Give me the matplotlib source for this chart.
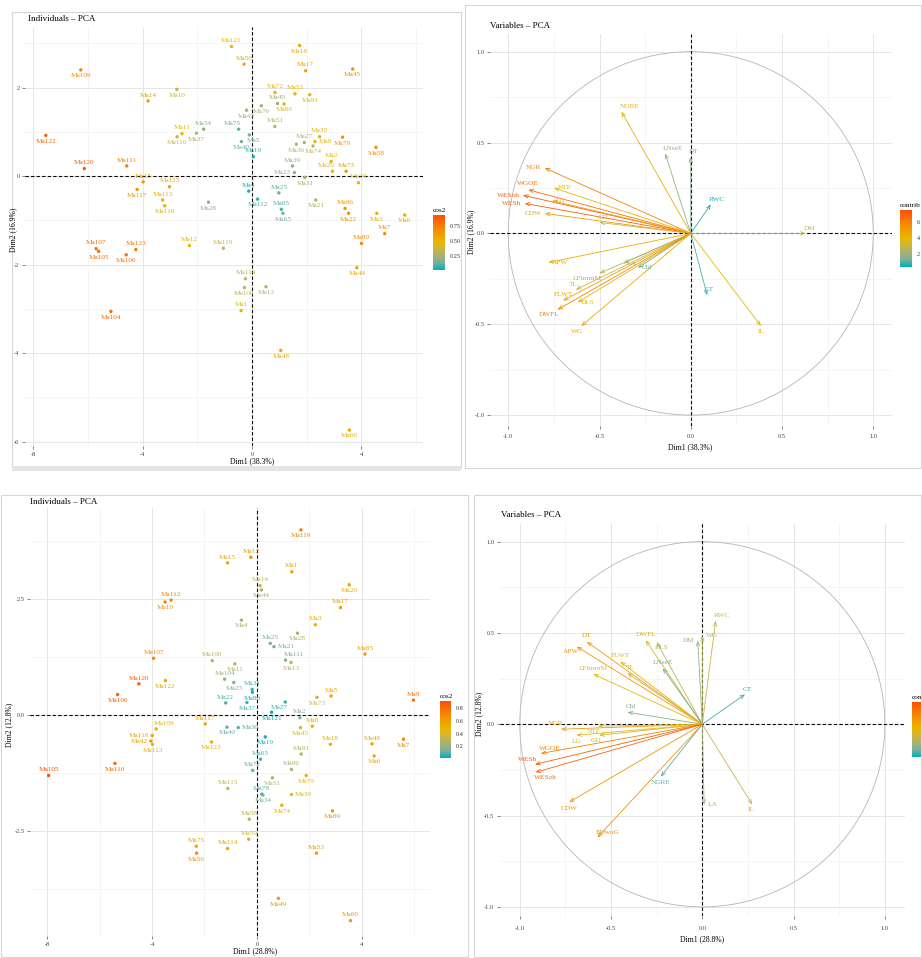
import matplotlib
matplotlib.use("Agg")
import matplotlib.pyplot as plt
import matplotlib.cm as cm
from matplotlib.colors import LinearSegmentedColormap, Normalize
from matplotlib.patches import Circle, Rectangle

W, H = 922, 958
plt.rcParams['font.family'] = ['Liberation Serif', 'DejaVu Serif']
plt.rcParams['axes.unicode_minus'] = False

# teal -> yellow -> red, blended the way ggplot does it (through muted olive tones)
GRAD = LinearSegmentedColormap.from_list('fviz', [
    (0.0, '#00AFBB'), (0.125, '#74B09E'), (0.25, '#A6B272'), (0.375, '#CBB446'),
    (0.5, '#E7B800'), (0.75, '#F58A05'), (1.0, '#FC4E07')])

# ---------------- data: individuals, first PCA (top left) ----------------
ind1_names = ['Ma109', 'Ma14', 'Ma10', 'Ma122', 'Ma11', 'Ma116', 'Ma34', 'Ma37', 'Ma75', 'Ma120',
              'Ma111', 'Ma15', 'Ma115', 'Ma117', 'Ma113', 'Ma110', 'Ma28', 'Ma121', 'Ma50', 'Ma18',
              'Ma17', 'Ma45', 'Ma72', 'Ma53', 'Ma91', 'Ma49', 'Ma80', 'Ma76', 'Ma42', 'Ma51',
              'Ma5', 'Ma40', 'Ma19', 'Ma27', 'Ma30', 'Ma8', 'Ma79', 'Ma36', 'Ma74', 'Ma58',
              'Ma2', 'Ma20', 'Ma73', 'Ma39', 'Ma23', 'Ma31', 'Ma29', 'Ma4', 'Ma112', 'Ma25',
              'Ma85', 'Ma65', 'Ma21', 'Ma96', 'Ma22', 'Ma3', 'Ma6', 'Ma7', 'Ma89', 'Ma107',
              'Ma105', 'Ma106', 'Ma123', 'Ma12', 'Ma119', 'Ma114', 'Ma100', 'Ma13', 'Ma1', 'Ma104',
              'Ma48', 'Ma44', 'Ma60']
ind1_dim1 = [-6.26, -3.80, -2.75, -7.54, -2.56, -2.74, -1.77, -2.03, -0.49, -6.13,
             -4.58, -3.98, -3.02, -4.20, -3.27, -3.19, -1.59, -0.75, -0.29, 1.74,
             1.96, 3.68, 0.84, 1.57, 2.11, 0.93, 1.17, 0.34, -0.20, 0.83,
             -0.10, -0.39, 0.05, 1.91, 2.47, 2.30, 3.31, 1.62, 2.23, 4.53,
             2.89, 2.94, 3.44, 1.48, 1.55, 1.93, 3.89, -0.12, 0.20, 0.98,
             1.07, 1.13, 2.33, 3.40, 3.53, 4.56, 5.58, 4.85, 4.00, -5.70,
             -5.61, -4.60, -4.25, -2.29, -1.05, -0.24, -0.28, 0.51, -0.40, -5.16,
             1.05, 3.83, 3.56]
ind1_dim2 = [2.40, 1.70, 1.96, 0.92, 0.96, 0.89, 1.06, 0.97, 1.06, 0.17,
             0.23, -0.13, -0.24, -0.30, -0.54, -0.67, -0.59, 2.93, 2.53, 2.95,
             2.38, 2.42, 1.89, 1.86, 1.84, 1.64, 1.63, 1.59, 1.49, 1.12,
             0.93, 0.78, 0.44, 0.76, 0.89, 0.78, 0.88, 0.72, 0.68, 0.65,
             0.33, 0.11, 0.11, 0.23, 0.08, -0.03, -0.15, -0.34, -0.52, -0.38,
             -0.75, -0.84, -0.54, -0.73, -0.84, -0.84, -0.88, -1.30, -1.52, -1.64,
             -1.70, -1.78, -1.66, -1.57, -1.63, -2.32, -2.52, -2.50, -3.04, -3.06,
             -3.94, -2.07, -5.74]
ind1_cos2 = [0.72, 0.60, 0.35, 0.85, 0.50, 0.35, 0.20, 0.28, 0.12, 0.88,
             0.75, 0.60, 0.55, 0.65, 0.50, 0.50, 0.20, 0.50, 0.55, 0.55,
             0.58, 0.68, 0.48, 0.52, 0.50, 0.22, 0.45, 0.25, 0.25, 0.28,
             0.15, 0.15, 0.05, 0.25, 0.50, 0.45, 0.65, 0.30, 0.35, 0.68,
             0.50, 0.42, 0.65, 0.18, 0.20, 0.25, 0.50, 0.05, 0.08, 0.12,
             0.10, 0.15, 0.30, 0.66, 0.68, 0.52, 0.52, 0.70, 0.70, 0.80,
             0.80, 0.80, 0.78, 0.50, 0.35, 0.32, 0.30, 0.30, 0.50, 0.82,
             0.55, 0.55, 0.55]

# ---------------- data: variables, first PCA (top right) ----------------
var1_names = ['NGRE', 'LNseE', 'DT', 'RWC', 'NGR', 'WGOE', 'WESoh', 'WESh', 'NTP', 'LG',
              'CDW', 'GD', 'DM', 'APW', 'LA', 'Chl', 'LFlmrnM', 'TL', 'FLWT', 'DLS',
              'DWFL', 'WG', 'CT', 'IL']
var1_dim1 = [-0.38, -0.14, 0.00, 0.11, -0.80, -0.89, -0.92, -0.91, -0.75, -0.76,
             -0.80, -0.50, 0.63, -0.78, -0.37, -0.29, -0.50, -0.63, -0.70, -0.62,
             -0.73, -0.60, 0.09, 0.385]
var1_dim2 = [0.67, 0.44, 0.42, 0.16, 0.36, 0.24, 0.21, 0.165, 0.25, 0.18,
             0.11, 0.06, 0.00, -0.16, -0.165, -0.19, -0.22, -0.31, -0.37, -0.38,
             -0.42, -0.51, -0.34, -0.51]
var1_contrib = [4.2, 1.8, 1.5, 0.6, 6.0, 6.5, 7.3, 7.0, 4.0, 4.5,
                5.0, 3.0, 3.2, 4.3, 2.0, 1.2, 2.5, 3.0, 4.8, 4.0,
                5.8, 4.5, 0.8, 3.8]

# ---------------- data: individuals, second PCA (bottom left) ----------------
ind2_names = ['Ma15', 'Ma112', 'Ma10', 'Ma107', 'Ma100', 'Ma120', 'Ma122', 'Ma106', 'Ma104', 'Ma23',
              'Ma22', 'Ma11', 'Ma4', 'Ma14', 'Ma44', 'Ma12', 'Ma119', 'Ma1', 'Ma20', 'Ma17',
              'Ma3', 'Ma25', 'Ma21', 'Ma28', 'Ma85', 'Ma111', 'Ma13', 'Ma31', 'Ma80', 'Ma37',
              'Ma27', 'Ma73', 'Ma5', 'Ma9', 'Ma2', 'Ma121', 'Ma36', 'Ma40', 'Ma19', 'Ma65',
              'Ma72', 'Ma96', 'Ma91', 'Ma45', 'Ma8', 'Ma18', 'Ma48', 'Ma7', 'Ma6', 'Ma116',
              'Ma109', 'Ma42', 'Ma113', 'Ma117', 'Ma123', 'Ma105', 'Ma110', 'Ma115', 'Ma51', 'Ma79',
              'Ma78', 'Ma34', 'Ma30', 'Ma74', 'Ma89', 'Ma58', 'Ma59', 'Ma114', 'Ma75', 'Ma50',
              'Ma53', 'Ma49', 'Ma60']
ind2_dim1 = [-1.12, -3.27, -3.50, -3.94, -1.70, -4.50, -3.49, -5.31, -1.23, -0.88,
             -1.19, -0.84, -0.59, 0.12, 0.17, -0.23, 1.68, 1.33, 3.52, 3.19,
             2.23, 0.51, 0.65, 1.55, 4.12, 1.09, 1.30, -0.18, -0.17, -0.38,
             1.08, 2.29, 2.83, 5.97, 1.64, 0.56, -0.71, -1.14, 0.32, 0.14,
             -0.16, 1.32, 1.69, 1.66, 2.11, 2.80, 4.39, 5.59, 4.47, -3.99,
             -3.84, -4.04, -3.98, -1.97, -1.73, -7.94, -5.41, -1.11, 0.59, 1.88,
             0.18, 0.23, 1.32, 0.95, 2.88, -0.29, -0.31, -1.12, -2.31, -2.30,
             2.27, 0.82, 3.57]
ind2_dim2 = [3.27, 2.47, 2.43, 1.22, 1.17, 0.67, 0.74, 0.44, 0.77, 0.70,
             0.26, 1.10, 2.04, 2.78, 2.69, 3.39, 3.98, 3.08, 2.80, 2.31,
             1.94, 1.54, 1.47, 1.76, 1.31, 1.18, 1.13, 0.55, 0.49, 0.27,
             0.28, 0.38, 0.41, 0.32, -0.06, 0.06, -0.27, -0.26, -0.47, -0.95,
             -1.19, -1.17, -0.84, -0.27, -0.24, -0.63, -0.62, -0.52, -0.88, -0.44,
             -0.30, -0.56, -0.63, -0.19, -0.58, -1.30, -1.04, -1.58, -1.35, -1.30,
             -1.70, -1.72, -1.71, -1.94, -2.06, -2.24, -2.67, -2.87, -2.82, -2.97,
             -2.97, -3.94, -4.42]
ind2_cos2 = [0.55, 0.70, 0.70, 0.70, 0.30, 0.85, 0.55, 0.85, 0.20, 0.15,
             0.10, 0.30, 0.25, 0.35, 0.25, 0.65, 0.72, 0.55, 0.55, 0.60,
             0.50, 0.15, 0.15, 0.25, 0.60, 0.15, 0.30, 0.08, 0.05, 0.08,
             0.08, 0.35, 0.55, 0.78, 0.15, 0.02, 0.10, 0.12, 0.05, 0.08,
             0.12, 0.25, 0.30, 0.40, 0.50, 0.50, 0.55, 0.70, 0.55, 0.55,
             0.50, 0.60, 0.50, 0.55, 0.50, 0.90, 0.82, 0.35, 0.30, 0.45,
             0.10, 0.15, 0.40, 0.50, 0.65, 0.30, 0.35, 0.55, 0.55, 0.68,
             0.62, 0.62, 0.62]

# ---------------- data: variables, second PCA (bottom right) ----------------
var2_names = ['RWC', 'WG', 'DM', 'DWFL', 'DLS', 'DT', 'APW', 'FLWT', 'TL', 'LNseE',
              'LFlmrnM', 'CT', 'Chl', 'NGR', 'NTP', 'LG', 'GD', 'WGOE', 'WESh', 'WESoh',
              'CDW', 'EDwoG', 'NGRE', 'LA', 'IL']
var2_dim1 = [0.073, 0.00, -0.025, -0.31, -0.25, -0.633, -0.688, -0.45, -0.41, -0.217,
             -0.597, 0.234, -0.41, -0.774, -0.57, -0.69, -0.565, -0.885, -0.917, -0.913,
             -0.73, -0.575, -0.228, 0.01, 0.274]
var2_dim2 = [0.566, 0.485, 0.458, 0.46, 0.45, 0.452, 0.425, 0.343, 0.28, 0.307,
             0.275, 0.164, 0.066, -0.027, -0.01, -0.06, -0.06, -0.16, -0.22, -0.263,
             -0.427, -0.62, -0.287, -0.44, -0.44]
var2_contrib = [3.0, 2.5, 1.8, 3.5, 2.5, 5.0, 5.2, 4.0, 3.0, 1.2,
                3.8, 0.8, 1.5, 5.0, 4.0, 3.8, 3.2, 6.0, 7.0, 6.8,
                5.2, 5.5, 1.0, 2.0, 3.0]

# label placement (repel-like side of each label relative to its point)
side_ind1 = {'Ma75': 'al', 'Ma5': 'br', 'Ma8': 'r', 'Ma20': 'al', 'Ma23': 'l'}
below_ind1 = ['Ma109', 'Ma10', 'Ma122', 'Ma116', 'Ma37', 'Ma117', 'Ma110', 'Ma28', 'Ma18', 'Ma45',
              'Ma91', 'Ma80', 'Ma76', 'Ma42', 'Ma40', 'Ma79', 'Ma36', 'Ma74', 'Ma58', 'Ma31',
              'Ma112', 'Ma65', 'Ma21', 'Ma22', 'Ma3', 'Ma6', 'Ma105', 'Ma106', 'Ma100', 'Ma13',
              'Ma104', 'Ma48', 'Ma44', 'Ma60']
side_ind2 = {'Ma21': 'r', 'Ma111': 'ar', 'Ma27': 'bl', 'Ma36': 'r', 'Ma116': 'l', 'Ma109': 'ar',
             'Ma42': 'l', 'Ma30': 'r'}
below_ind2 = ['Ma10', 'Ma122', 'Ma106', 'Ma23', 'Ma11', 'Ma4', 'Ma44', 'Ma119', 'Ma20', 'Ma28',
              'Ma13', 'Ma80', 'Ma37', 'Ma73', 'Ma121', 'Ma40', 'Ma19', 'Ma45', 'Ma7', 'Ma6',
              'Ma113', 'Ma123', 'Ma110', 'Ma51', 'Ma79', 'Ma34', 'Ma74', 'Ma89', 'Ma50', 'Ma49']
side_var1 = {'NGRE': 'ar', 'LNseE': 'ar', 'DT': 'ar', 'RWC': 'ar', 'NGR': 'l', 'WGOE': 'a',
             'WESoh': 'l', 'WESh': 'l', 'NTP': 'r', 'LG': 'r', 'CDW': 'l', 'GD': 'ar', 'DM': 'ar',
             'APW': 'r', 'LA': 'r', 'Chl': 'r', 'LFlmrnM': 'bl', 'TL': 'al', 'FLWT': 'a',
             'DLS': 'r', 'DWFL': 'bl', 'WG': 'bl', 'CT': 'ar', 'IL': 'b'}
side_var2 = {'RWC': 'ar', 'WG': 'r', 'DM': 'l', 'DWFL': 'a', 'DLS': 'br', 'DT': 'a', 'APW': 'bl',
             'FLWT': 'a', 'TL': 'ar', 'LNseE': 'a', 'LFlmrnM': 'a', 'CT': 'ar', 'Chl': 'ar',
             'NGR': 'al', 'NTP': 'bl', 'LG': 'b', 'GD': 'bl', 'WGOE': 'ar', 'WESh': 'al',
             'WESoh': 'br', 'CDW': 'b', 'EDwoG': 'ar', 'NGRE': 'b', 'LA': 'r', 'IL': 'bl'}

LABEL_POS = {
    'a': (0, 4.2, 'center'), 'b': (0, -4.2, 'center'),
    'l': (-2.5, 0, 'right'), 'r': (2.5, 0, 'left'),
    'al': (1.5, 3.8, 'right'), 'ar': (-1.5, 3.8, 'left'),
    'bl': (1.5, -3.8, 'right'), 'br': (-1.5, -3.8, 'left'),
}


def fig_box(x0, y0, x1, y1):
    # pixel box (from top left of the image) -> figure fraction
    return [x0 / W, 1 - y1 / H, (x1 - x0) / W, (y1 - y0) / H]


def base_axes(fig, box, xlim, ylim, xmaj, ymaj, xmin, ymin, fmt='{:g}', xpad=2, ypad=2):
    ax = fig.add_axes(fig_box(*box))
    ax.set_xlim(xlim)
    ax.set_ylim(ylim)
    ax.set_xticks(xmaj)
    ax.set_yticks(ymaj)
    ax.set_xticks(xmin, minor=True)
    ax.set_yticks(ymin, minor=True)
    ax.set_xticklabels([fmt.format(v) for v in xmaj])
    ax.set_yticklabels([fmt.format(v) for v in ymaj])
    ax.grid(which='major', color='#e6e6e6', lw=0.7)
    ax.grid(which='minor', color='#f0f0f0', lw=0.45)
    ax.set_axisbelow(True)
    for s in ax.spines.values():
        s.set_visible(False)
    ax.tick_params(which='major', length=2, width=0.5, color='#555555', labelsize=4.6,
                   labelcolor='#444444')
    ax.tick_params(axis='x', pad=xpad)
    ax.tick_params(axis='y', pad=ypad)
    ax.tick_params(which='minor', length=0)
    ax.axhline(0, color='black', ls=(0, (3, 2)), lw=0.8, zorder=2)
    ax.axvline(0, color='black', ls=(0, (3, 2)), lw=0.8, zorder=2)
    return ax


def draw_individuals(ax, names, d1, d2, cos2, norm, sides, below):
    ax.scatter(d1, d2, s=6, c=cos2, cmap=GRAD, norm=norm, linewidths=0, zorder=3)
    for n, x, y, c in zip(names, d1, d2, cos2):
        code = sides.get(n, 'b' if n in below else 'a')
        dx, dy, ha = LABEL_POS[code]
        ax.annotate(n, (x, y), xytext=(dx, dy), textcoords='offset points', ha=ha, va='center',
                    fontsize=5.2, color=GRAD(norm(c)), zorder=4)


def draw_variables(ax, names, d1, d2, contrib, norm, sides):
    ax.add_patch(Circle((0, 0), 1, fill=False, ec='#b5b5b5', lw=0.6, zorder=1))
    for n, x, y, c in zip(names, d1, d2, contrib):
        col = GRAD(norm(c))
        ax.annotate('', xy=(x, y), xytext=(0, 0),
                    arrowprops=dict(arrowstyle='->,head_length=0.3,head_width=0.12', color=col,
                                    lw=0.6, shrinkA=0, shrinkB=0), zorder=3)
        dx, dy, ha = LABEL_POS[sides.get(n, 'a')]
        ax.annotate(n, (x, y), xytext=(dx, dy), textcoords='offset points', ha=ha, va='center',
                    fontsize=5.2, color=col, zorder=4)


def add_colorbar(fig, box, norm, ticks, title, fmt, show_labels=True):
    cax = fig.add_axes(fig_box(*box))
    cb = fig.colorbar(cm.ScalarMappable(norm=norm, cmap=GRAD), cax=cax, ticks=ticks)
    cb.outline.set_visible(False)
    cb.ax.set_yticklabels([fmt.format(t) for t in ticks] if show_labels else [])
    cax.tick_params(length=2, width=0.5, color='white', labelsize=4.5, pad=1.5, labelcolor='#333333')
    cax.set_title(title, fontsize=5.2, loc='left', pad=2.5)
    return cb


def fig_text(fig, x, y, s, **kw):
    fig.text(x / W, 1 - y / H, s, **kw)


fig = plt.figure(figsize=(W / 100, H / 100), dpi=100)
fig.patch.set_facecolor('white')

# panel frames
for (x0, y0, x1, y1) in [(12, 12, 461, 468), (465, 5, 921, 468), (1, 495, 468, 957), (474, 495, 921, 957)]:
    fig.add_artist(Rectangle((x0 / W, 1 - y1 / H), (x1 - x0) / W, (y1 - y0) / H,
                             transform=fig.transFigure, fill=False, ec='#d6d6d6', lw=0.8))
fig.add_artist(Rectangle((12 / W, 1 - 471 / H), 449 / W, 5 / H, transform=fig.transFigure,
                         fc='#e4e4e4', ec='none'))

# ---- top left ----
norm1 = Normalize(0.02, 0.93)
ax1 = base_axes(fig, (25, 27, 423, 446), (-8.3, 6.25), (-6.1, 3.37),
                [-8, -4, 0, 4], [-6, -4, -2, 0, 2], [-6, -2, 2, 6], [-5, -3, -1, 1, 3])
draw_individuals(ax1, ind1_names, ind1_dim1, ind1_dim2, ind1_cos2, norm1, side_ind1, below_ind1)
add_colorbar(fig, (433, 215, 445, 270), norm1, [0.25, 0.5, 0.75], 'cos2', '{:.2f}')
fig_text(fig, 28, 19, 'Individuals \u2013 PCA', fontsize=6.5, va='center', ha='left')
fig_text(fig, 252, 461, 'Dim1 (38.3%)', fontsize=5.5, va='center', ha='center')
fig_text(fig, 13, 230, 'Dim2 (16.9%)', fontsize=5.5, va='center', ha='center', rotation=90)

# ---- top right ----
norm2 = Normalize(0.3, 7.5)
ax2 = base_axes(fig, (490, 33.5, 891.5, 426), (-1.1, 1.1), (-1.06, 1.1),
                [-1, -0.5, 0, 0.5, 1], [-1, -0.5, 0, 0.5, 1],
                [-0.75, -0.25, 0.25, 0.75], [-0.75, -0.25, 0.25, 0.75], fmt='{:.1f}', xpad=4)
draw_variables(ax2, var1_names, var1_dim1, var1_dim2, var1_contrib, norm2, side_var1)
add_colorbar(fig, (900, 210, 912, 267), norm2, [2, 4, 6], 'contrib', '{:g}')
fig_text(fig, 490, 26, 'Variables \u2013 PCA', fontsize=6.5, va='center', ha='left')
fig_text(fig, 690, 447, 'Dim1 (38.3%)', fontsize=5.5, va='center', ha='center')
fig_text(fig, 471, 232, 'Dim2 (16.9%)', fontsize=5.5, va='center', ha='center', rotation=90)

# ---- bottom left ----
norm3 = Normalize(0.02, 0.91)
ax3 = base_axes(fig, (30, 508, 430, 936), (-8.65, 6.6), (-4.75, 4.45),
                [-8, -4, 0, 4], [-2.5, 0, 2.5], [-6, -2, 2, 6], [-3.75, -1.25, 1.25, 3.75],
                fmt='{:.1f}')
ax3.set_xticklabels(['-8', '-4', '0', '4'])
draw_individuals(ax3, ind2_names, ind2_dim1, ind2_dim2, ind2_cos2, norm3, side_ind2, below_ind2)
add_colorbar(fig, (440, 701, 451, 758), norm3, [0.2, 0.4, 0.6, 0.8], 'cos2', '{:.1f}')
fig_text(fig, 30, 502, 'Individuals \u2013 PCA', fontsize=6.5, va='center', ha='left')
fig_text(fig, 255, 951, 'Dim1 (28.8%)', fontsize=5.5, va='center', ha='center')
fig_text(fig, 9, 725, 'Dim2 (12.8%)', fontsize=5.5, va='center', ha='center', rotation=90)

# ---- bottom right ----
norm4 = Normalize(0.3, 7.5)
ax4 = base_axes(fig, (499.7, 523.4, 904.9, 916), (-1.11, 1.11), (-1.05, 1.1),
                [-1, -0.5, 0, 0.5, 1], [-1, -0.5, 0, 0.5, 1],
                [-0.75, -0.25, 0.25, 0.75], [-0.75, -0.25, 0.25, 0.75], fmt='{:.1f}', xpad=5)
draw_variables(ax4, var2_names, var2_dim1, var2_dim2, var2_contrib, norm4, side_var2)
# legend runs off the right edge of the image, as in the screenshot
add_colorbar(fig, (912, 702, 924, 757), norm4, [2, 4, 6], 'contrib', '{:g}', show_labels=False)
fig_text(fig, 501, 515, 'Variables \u2013 PCA', fontsize=6.5, va='center', ha='left')
fig_text(fig, 702, 939, 'Dim1 (28.8%)', fontsize=5.5, va='center', ha='center')
fig_text(fig, 479, 714, 'Dim2 (12.8%)', fontsize=5.5, va='center', ha='center', rotation=90)

fig.savefig('out.png', dpi=100, facecolor='white')
